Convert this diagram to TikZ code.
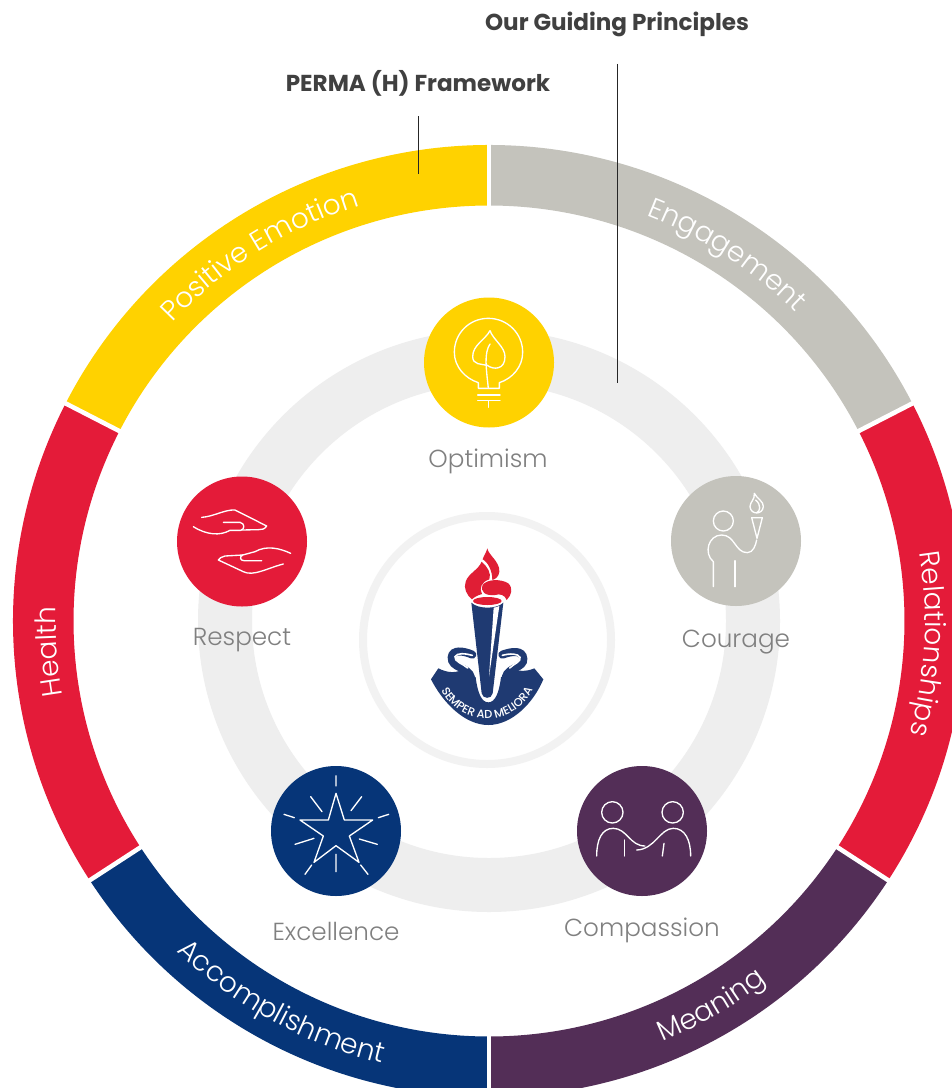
\documentclass[tikz,border=0pt]{standalone}
\usepackage{fontspec}
\setmainfont{Poppins}
\newfontfamily\lightf{Poppins Light}
\newfontfamily\medf{Poppins Medium}
\usetikzlibrary{decorations.text}
\definecolor{cyellow}{HTML}{FFD200}
\definecolor{cgrey}{HTML}{C4C3BC}
\definecolor{cred}{HTML}{E41B39}
\definecolor{cnavy}{HTML}{063578}
\definecolor{cpurple}{HTML}{532E57}
\definecolor{cring}{HTML}{EEEEEE}
\definecolor{clogo}{HTML}{F2F2F2}
\definecolor{ctorch}{HTML}{1F3A72}
\definecolor{cflame}{HTML}{E01E35}
\definecolor{ctext}{HTML}{808080}
\definecolor{chead}{HTML}{404040}
\tikzset{
  x=0.75pt,y=0.75pt,
  seg/.style={line width=45.4pt},
  sepline/.style={draw=white,line width=3.4pt},
  icon/.style={circle,inner sep=0pt,minimum size=97.5pt},
  lab/.style={text=ctext,font=\lightf\fontsize{18.5}{20}\selectfont,inner sep=0pt},
  headt/.style={text=chead,font=\bfseries\fontsize{17.3}{19}\selectfont,inner sep=0pt},
  conn/.style={draw=black!85,line width=0.75pt},
  gl/.style={draw=white,line width=1pt,line cap=round,line join=round},
}
\newcommand{\rtxt}[4]{% start angle, end angle, radius, text
  \path[decorate,decoration={text along path,text align=center,
    text={|\lightf\fontsize{21}{24}\selectfont\color{white}|#4}}]
    (0,0)++(#1:#3*0.75pt) arc[start angle=#1,end angle=#2,radius=#3*0.75pt];}
\begin{document}
\begin{tikzpicture}
\useasboundingbox (0,0) rectangle (952,-1088);
\clip (0,0) rectangle (952,-1088);
\fill[white] (0,0) rectangle (952,-1088);
% rings
\begin{scope}[shift={(489,-621)}]
  \draw[cring,line width=40.5pt] (0,0) circle[radius=264*0.75pt];
  \draw[seg,cyellow] (153:445.75*0.75pt) arc[start angle=153,end angle=90,radius=445.75*0.75pt];
  \draw[seg,cgrey] (90:445.75*0.75pt) arc[start angle=90,end angle=27,radius=445.75*0.75pt];
  \draw[seg,cred] (27:445.75*0.75pt) arc[start angle=27,end angle=-33,radius=445.75*0.75pt];
  \draw[seg,cpurple] (-33:445.75*0.75pt) arc[start angle=-33,end angle=-90,radius=445.75*0.75pt];
  \draw[seg,cnavy] (270:445.75*0.75pt) arc[start angle=270,end angle=213,radius=445.75*0.75pt];
  \draw[seg,cred] (213:445.75*0.75pt) arc[start angle=213,end angle=153,radius=445.75*0.75pt];
  \foreach \a in {90,270,152.8,27.2,213,-33}
    \draw[sepline] (\a:410*0.75pt) -- (\a:482*0.75pt);
  \rtxt{138}{106}{435}{Positive Emotion}
  \rtxt{72}{42}{435}{Engagement}
  \rtxt{12}{-18}{436}{Relationships}
  \rtxt{196}{172}{433}{Health}
  \rtxt{223.5}{259.5}{455}{Accomplishment}
  \rtxt{285}{315}{455}{Meaning}
\end{scope}
\draw[clogo,line width=6pt] (487,-640) circle[radius=124*0.75pt];
% headings and connectors
\node[headt] (gp) at (617,-24) {Our Guiding Principles};
\node[headt] (pf) at (418,-83) {PERMA (H) Framework};
\coordinate (gpa) at (617,-64);
\coordinate (gpb) at (617,-383);
\coordinate (pfa) at (418.5,-116);
\coordinate (pfb) at (418.5,-174);
\draw[conn] (gpa) -- (gpb);
\draw[conn] (pfa) -- (pfb);
% icon circles
\node[icon,fill=cyellow] (opt) at (489,-362.5) {};
\node[icon,fill=cgrey] (cou) at (736,-541) {};
\node[icon,fill=cred] (res) at (242,-541.5) {};
\node[icon,fill=cnavy] (exc) at (336,-831) {};
\node[icon,fill=cpurple] (com) at (642,-831) {};
\node[lab] (optl) at (488,-461) {Optimism};
\node[lab] (coul) at (736,-642) {Courage};
\node[lab] (resl) at (242,-640) {Respect};
\node[lab] (excl) at (336,-931) {Excellence};
\node[lab] (coml) at (642,-930) {Compassion};
% bulb
\begin{scope}[shift={(410,-290)},x=0.25pt,y=-0.25pt]
  \draw[gl] (205,295) -- (205,278) .. controls (165,265) and (133,230) .. (133,187)
    .. controls (133,130) and (178,85) .. (235,85) .. controls (292,85) and (338,130) .. (338,187)
    .. controls (338,230) and (308,265) .. (268,278) -- (268,295) -- cycle;
  \draw[gl] (203,315) -- (270,315) (203,332) -- (270,332) (235,332) -- (235,352);
  \draw[gl] (240,122) .. controls (225,150) and (188,165) .. (188,200)
    .. controls (188,225) and (215,222) .. (232,226)
    .. controls (250,240) and (285,240) .. (285,200)
    .. controls (285,170) and (250,150) .. (240,122);
  \draw[gl] (240,162) .. controls (222,190) and (228,230) .. (235,295);
\end{scope}
% courage
\begin{scope}[shift={(660,-470)},x=0.25pt,y=-0.25pt]
  \draw[gl] (190,153) circle[radius=30];
  \draw[gl] (160,350) -- (160,275) .. controls (130,250) and (145,195) .. (185,195)
    .. controls (225,195) and (225,248) .. (262,248) .. controls (280,248) and (287,225) .. (290,210);
  \draw[gl] (225,272) -- (225,350);
  \draw[gl] (275,143) -- (307,143) -- (291,205) -- cycle;
  \draw[gl] (283,70) .. controls (290,85) and (312,95) .. (310,110) .. controls (308,135) and (272,135) .. (270,110)
    .. controls (270,95) and (285,90) .. (283,70);
  \draw[gl] (287,90) .. controls (305,105) and (300,125) .. (290,128);
\end{scope}
% respect
\begin{scope}[shift={(170,-470)},x=0.25pt,y=-0.25pt]
  \draw[gl] (95,142) .. controls (130,140) and (165,118) .. (195,120) -- (290,168)
    .. controls (285,177) and (275,180) .. (265,179) -- (215,180);
  \draw[gl] (160,157) -- (210,157) .. controls (225,160) and (225,178) .. (212,181) -- (180,181)
    .. controls (150,198) and (110,195) .. (70,170);
  \draw[gl] (362,250) .. controls (330,235) and (290,225) .. (255,245) -- (218,255)
    .. controls (208,260) and (210,272) .. (222,272) -- (275,272);
  \draw[gl] (218,255) -- (165,258) .. controls (155,260) and (148,265) .. (145,270) -- (220,305)
    .. controls (250,320) and (290,295) .. (340,282);
\end{scope}
% excellence
\begin{scope}[shift={(260,-760)},x=0.25pt,y=-0.25pt]
  \draw[gl,line cap=butt] (228,100) -- (253,180) -- (338,180) -- (268,228) -- (297,307) -- (228,257)
    -- (162,307) -- (190,228) -- (120,180) -- (205,180) -- cycle;
  \draw[gl] (228,47) -- (228,78) (152,110) -- (186,155) (305,110) -- (273,152) (72,163) -- (103,173)
    (386,163) -- (355,173) (105,253) -- (162,235) (352,253) -- (298,237) (228,283) -- (228,335)
    (155,315) -- (135,343) (302,315) -- (324,343);
\end{scope}
% compassion
\begin{scope}[shift={(570,-760)},x=0.25pt,y=-0.25pt]
  \draw[gl] (127,157) circle[radius=32] (308,157) circle[radius=32];
  \draw[gl] (80,288) .. controls (80,240) and (95,205) .. (130,205) .. controls (170,205) and (180,258) .. (225,258);
  \draw[gl] (163,240) -- (163,288);
  \draw[gl] (362,288) .. controls (362,240) and (345,205) .. (310,205) .. controls (270,205) and (255,268) .. (200,270);
  \draw[gl] (282,250) -- (277,288);
\end{scope}
% logo: flame and torch
\begin{scope}[shift={(400,-520)},x=0.25pt,y=-0.25pt]
  \fill[cflame] (262,85) .. controls (265,105) and (300,125) .. (298,155) .. controls (297,170) and (285,178) .. (277,180)
    .. controls (277,150) and (262,125) .. (248,118) .. controls (250,110) and (258,100) .. (262,85) -- cycle;
  \fill[cflame] (245,125) .. controls (262,140) and (275,160) .. (268,178) .. controls (245,185) and (236,205) .. (246,222)
    .. controls (232,226) and (222,232) .. (216,238) .. controls (200,225) and (190,205) .. (197,185)
    .. controls (205,160) and (235,150) .. (245,125) -- cycle;
  \fill[cflame] (248,195) .. controls (260,178) and (300,175) .. (325,190) .. controls (340,205) and (335,225) .. (320,240)
    .. controls (315,225) and (300,220) .. (285,225) .. controls (255,228) and (240,215) .. (248,195) -- cycle;
  \fill[cflame] (262,243) ellipse[x radius=43,y radius=12];
  \fill[ctorch] (214,248) .. controls (235,268) and (290,268) .. (310,248) -- (278,520)
    .. controls (275,538) and (248,538) .. (245,520) -- cycle;
  \fill[white] (281,263) -- (267,470) -- (298,258) .. controls (292,261) and (286,262) .. (281,263) -- cycle;
\end{scope}
% logo: banner
\begin{scope}[shift={(425,-640)},x=0.25pt,y=-0.25pt]
  \fill[ctorch] (40,85) -- (18,118) .. controls (55,190) and (120,255) .. (190,255)
    .. controls (260,255) and (325,190) .. (355,118) -- (328,85)
    .. controls (305,95) and (280,95) .. (262,85) -- (228,112)
    .. controls (222,160) and (210,187) .. (190,187) .. controls (170,187) and (158,160) .. (152,112)
    -- (120,85) .. controls (95,100) and (70,100) .. (40,85) -- cycle;
  \draw[ctorch,line width=6pt,line cap=round] (138,112) .. controls (130,80) and (78,85) .. (80,52)
    .. controls (82,28) and (115,32) .. (142,44);
  \draw[white,line width=1.2pt,line cap=round] (128,84) .. controls (115,72) and (86,64) .. (90,50)
    .. controls (96,38) and (120,40) .. (142,46);
  \draw[ctorch,line width=6pt,line cap=round] (242,112) .. controls (250,80) and (297,85) .. (295,56)
    .. controls (293,30) and (262,33) .. (232,44);
  \draw[white,line width=1.2pt,line cap=round] (254,84) .. controls (265,72) and (290,65) .. (285,52)
    .. controls (279,40) and (255,40) .. (232,46);
\end{scope}
\begin{scope}[shift={(487,-668)}]
  \path[decorate,decoration={text along path,text align=center,
    text={|\medf\fontsize{8.6}{10}\selectfont\color{white}|SEMPER AD MELIORA}}]
    (185:38pt) arc[start angle=185,end angle=355,radius=38pt];
\end{scope}
\end{tikzpicture}
\end{document}
